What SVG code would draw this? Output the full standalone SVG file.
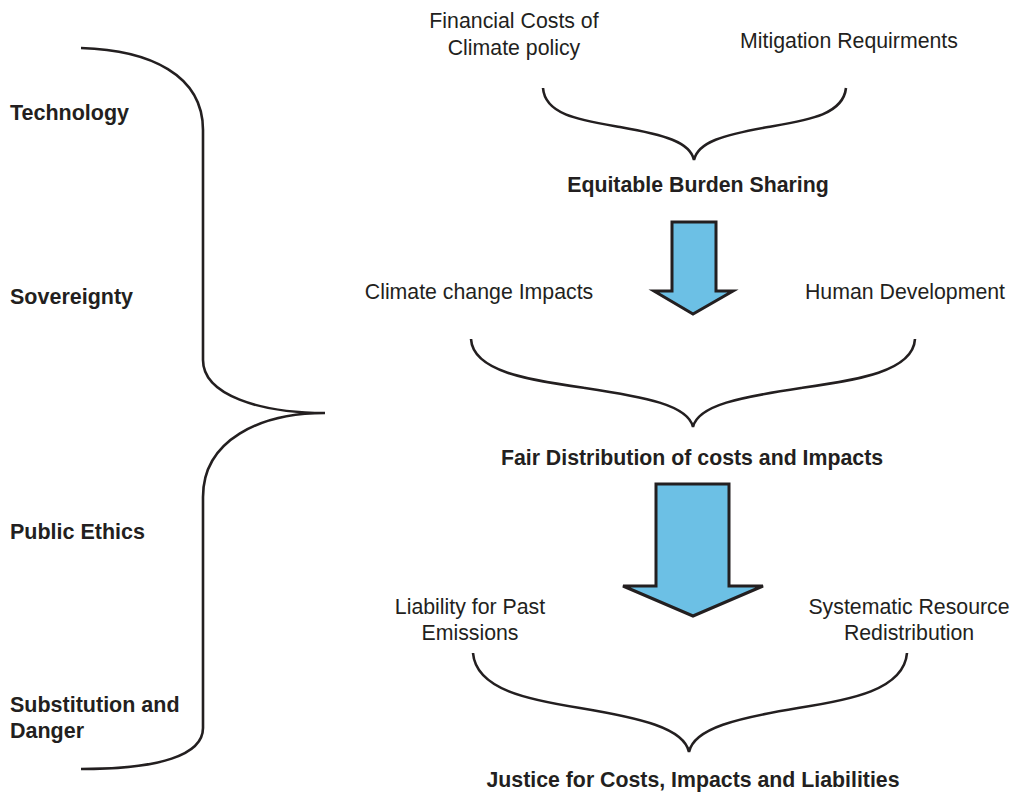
<svg xmlns="http://www.w3.org/2000/svg" width="1015" height="795" viewBox="0 0 1015 795">
<style>
.t{font-family:"Liberation Sans",Arial,sans-serif;font-size:21.3px;fill:#231f20;text-anchor:middle}
.b{font-family:"Liberation Sans",Arial,sans-serif;font-size:21.3px;font-weight:bold;fill:#231f20;text-anchor:middle}
.l{font-family:"Liberation Sans",Arial,sans-serif;font-size:21.5px;font-weight:bold;fill:#231f20}
.br{fill:none;stroke:#231f20;stroke-width:2.6}
.ar{fill:#6cc0e5;stroke:#231f20;stroke-width:3;stroke-linejoin:miter}
</style>
<rect width="1015" height="795" fill="#fff"/>
<g id="labels-left">
<text class="l" x="10" y="120">Technology</text>
<text class="l" x="10" y="304">Sovereignty</text>
<text class="l" x="10" y="539">Public Ethics</text>
<text class="l" x="10" y="712">Substitution and</text>
<text class="l" x="10" y="738">Danger</text>
</g>
<g id="connectors">
<path class="br" d="M81,48 C150,50 203,75 203,130 L203,360 C203,395 260,413 325,413 C260,413 203,440 203,497 L203,728 C203,755 160,769 81,769"/>
<path class="br" d="M543,88 C545,115 580,120 620,127 C665,135 690,142 694,160 C698,142 723,135 768,127 C808,120 843,115 846,88"/>
<path class="br" d="M471,339 C473,372 530,380 585,388 C645,397 688,405 693,427 C698,405 741,397 801,388 C856,380 913,372 915,339"/>
<path class="br" d="M473,653 C476,690 530,700 580,708 C640,718 684,728 689,752 C694,728 738,718 798,708 C850,700 904,690 907,653"/>
</g>
<g id="arrow1"><polygon class="ar" points="672,222 716,222 716,291 733,291 693,314 654,291 672,291"/></g>
<g id="arrow2"><polygon class="ar" points="656,484 729,484 729,586 763,586 693,616 623,586 656,586"/></g>
<g id="node-financial"><text class="t" x="514" y="28">Financial Costs of</text><text class="t" x="514" y="55">Climate policy</text></g>
<g id="node-mitigation"><text class="t" x="849" y="48">Mitigation Requirments</text></g>
<g id="node-equitable"><text class="b" x="698" y="192">Equitable Burden Sharing</text></g>
<g id="node-impacts"><text class="t" x="479" y="299">Climate change Impacts</text></g>
<g id="node-human"><text class="t" x="905" y="299">Human Development</text></g>
<g id="node-fair"><text class="b" x="692" y="465">Fair Distribution of costs and Impacts</text></g>
<g id="node-liability"><text class="t" x="470" y="614">Liability for Past</text><text class="t" x="470" y="640">Emissions</text></g>
<g id="node-systematic"><text class="t" x="909" y="614">Systematic Resource</text><text class="t" x="909" y="640">Redistribution</text></g>
<g id="node-justice"><text class="b" x="693" y="787">Justice for Costs, Impacts and Liabilities</text></g>
</svg>
